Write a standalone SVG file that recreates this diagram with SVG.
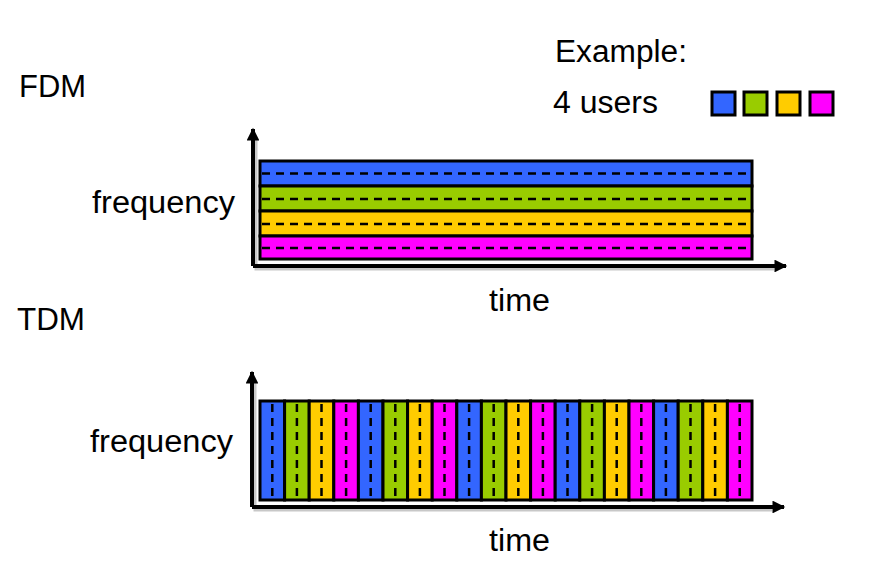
<svg xmlns="http://www.w3.org/2000/svg" width="885" height="568" viewBox="0 0 885 568">
<style>
text{font-family:"Liberation Sans",Arial,sans-serif;font-size:31px;fill:#000}
.b{fill:#3366FF}.g{fill:#99CC00}.y{fill:#FFCC00}.m{fill:#FF00FF}
.cell{stroke:#000;stroke-width:3}
.dh{stroke:#000;stroke-width:2.5;stroke-dasharray:8 6;fill:none}
.ax{stroke:#000;stroke-width:4;fill:none}
.sh{stroke:#c8c8c8;stroke-width:3;fill:none}
</style>
<defs>
<marker id="ah" viewBox="0 0 10 10" refX="9" refY="5" markerWidth="3.4" markerHeight="3.2" markerUnits="strokeWidth" orient="auto">
<path d="M0,0 L10,5 L0,10 z" fill="#000"/>
</marker>
</defs>
<rect width="885" height="568" fill="#fff"/>
<g id="labels">
<text x="19" y="97" textLength="67" lengthAdjust="spacingAndGlyphs">FDM</text>
<text x="555" y="62" textLength="132" lengthAdjust="spacingAndGlyphs">Example:</text>
<text x="553" y="113" textLength="105" lengthAdjust="spacingAndGlyphs">4 users</text>
<text x="92" y="213" textLength="143" lengthAdjust="spacingAndGlyphs">frequency</text>
<text x="489" y="311" textLength="61" lengthAdjust="spacingAndGlyphs">time</text>
<text x="17" y="330" textLength="68" lengthAdjust="spacingAndGlyphs">TDM</text>
<text x="90" y="452" textLength="143" lengthAdjust="spacingAndGlyphs">frequency</text>
<text x="489" y="551" textLength="61" lengthAdjust="spacingAndGlyphs">time</text>
</g>
<g id="legend">
<rect class="cell b" x="712" y="92" width="23" height="23"/>
<rect class="cell g" x="744" y="92" width="23" height="23"/>
<rect class="cell y" x="777" y="92" width="23" height="23"/>
<rect class="cell m" x="810" y="92" width="23" height="23"/>
</g>
<g id="connectors">
<path class="sh" d="M256,138 V269 H774"/>
<path class="sh" d="M255,383 V510 H772"/>
<path class="ax" d="M253,266 V129" marker-end="url(#ah)"/>
<path class="ax" d="M253,266 H786" marker-end="url(#ah)"/>
<path class="ax" d="M252,507 V372" marker-end="url(#ah)"/>
<path class="ax" d="M252,507 H784" marker-end="url(#ah)"/>
</g>
<g id="fdm">
<rect class="cell b" x="260" y="161" width="492" height="25"/>
<rect class="cell g" x="260" y="186" width="492" height="25"/>
<rect class="cell y" x="260" y="211" width="492" height="25"/>
<rect class="cell m" x="260" y="236" width="492" height="23"/>
<path class="dh" d="M262,173.5 H750 M262,199 H750 M262,224 H750 M262,248 H750"/>
</g>
<g id="tdm">
<rect class="cell b" x="260" y="401" width="24.6" height="99"/>
<rect class="cell g" x="284.6" y="401" width="24.6" height="99"/>
<rect class="cell y" x="309.2" y="401" width="24.6" height="99"/>
<rect class="cell m" x="333.8" y="401" width="24.6" height="99"/>
<rect class="cell b" x="358.4" y="401" width="24.6" height="99"/>
<rect class="cell g" x="383" y="401" width="24.6" height="99"/>
<rect class="cell y" x="407.6" y="401" width="24.6" height="99"/>
<rect class="cell m" x="432.2" y="401" width="24.6" height="99"/>
<rect class="cell b" x="456.8" y="401" width="24.6" height="99"/>
<rect class="cell g" x="481.4" y="401" width="24.6" height="99"/>
<rect class="cell y" x="506" y="401" width="24.6" height="99"/>
<rect class="cell m" x="530.6" y="401" width="24.6" height="99"/>
<rect class="cell b" x="555.2" y="401" width="24.6" height="99"/>
<rect class="cell g" x="579.8" y="401" width="24.6" height="99"/>
<rect class="cell y" x="604.4" y="401" width="24.6" height="99"/>
<rect class="cell m" x="629" y="401" width="24.6" height="99"/>
<rect class="cell b" x="653.6" y="401" width="24.6" height="99"/>
<rect class="cell g" x="678.2" y="401" width="24.6" height="99"/>
<rect class="cell y" x="702.8" y="401" width="24.6" height="99"/>
<rect class="cell m" x="727.4" y="401" width="24.6" height="99"/>
<path class="dh" d="M272.3,404 V498 M296.9,404 V498 M321.5,404 V498 M346.1,404 V498 M370.7,404 V498 M395.3,404 V498 M419.9,404 V498 M444.5,404 V498 M469.1,404 V498 M493.7,404 V498 M518.3,404 V498 M542.9,404 V498 M567.5,404 V498 M592.1,404 V498 M616.7,404 V498 M641.3,404 V498 M665.9,404 V498 M690.5,404 V498 M715.1,404 V498 M739.7,404 V498"/>
</g>
</svg>
